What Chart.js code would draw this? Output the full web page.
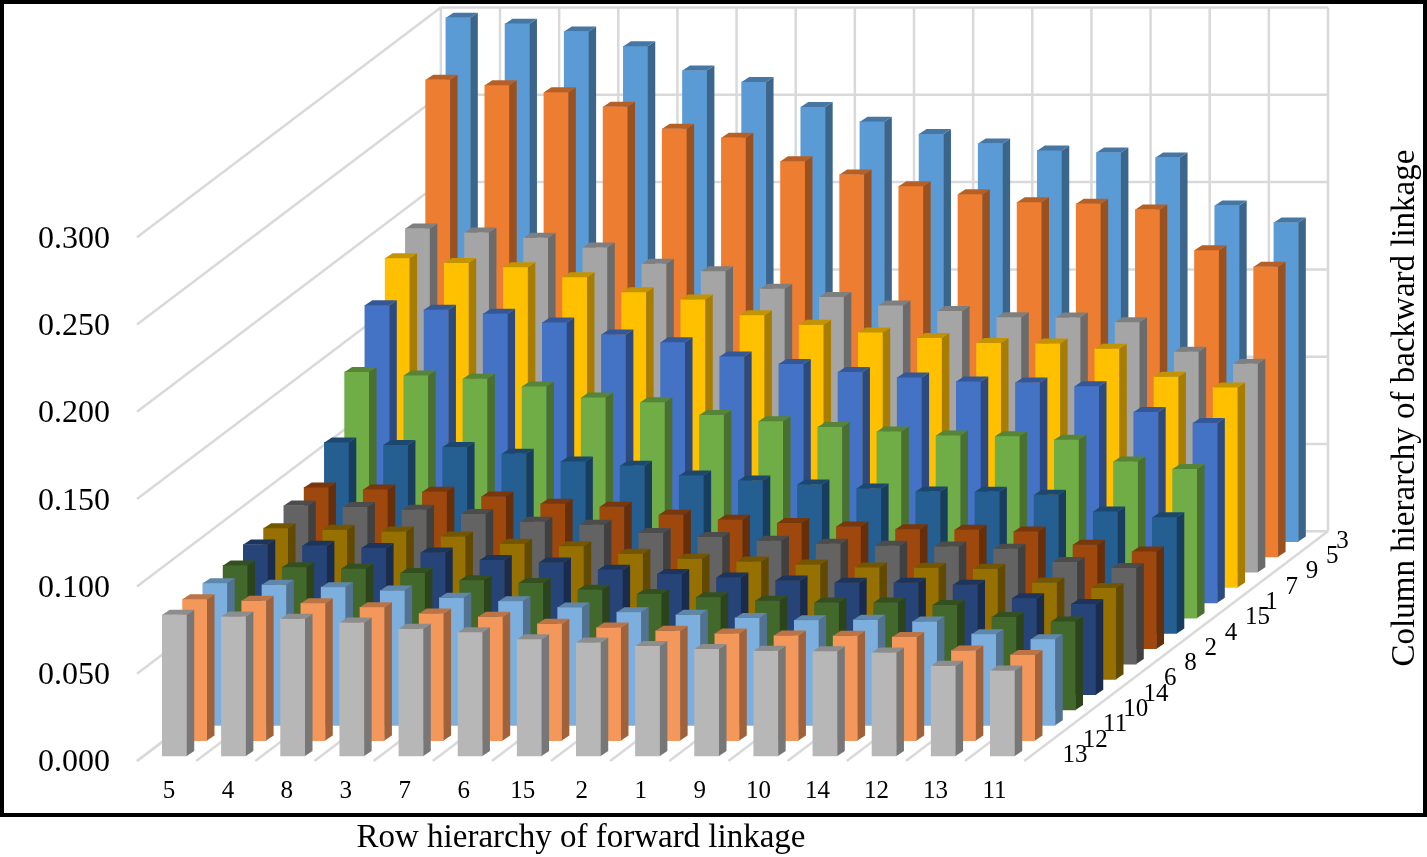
<!DOCTYPE html>
<html>
<head>
<meta charset="utf-8">
<title>Linkage hierarchy</title>
<script src="https://cdn.jsdelivr.net/npm/chart.js@4"></script>
<style>
  html, body { margin: 0; padding: 0; background: #fff; }
  canvas { display: block; }
</style>
</head>
<body>
<canvas id="idLinkageChart" width="1427" height="857"></canvas>
<script>
// row sectors along the front of the chart
const rowLabels = ['5', '4', '8', '3', '7', '6', '15', '2', '1', '9', '10', '14', '12', '13', '11'];
// column sectors, front row first
const columnLabels = ['13', '12', '11', '10', '14', '6', '8', '2', '4', '15', '1', '7', '9', '5', '3'];
const yTicks = [0, 0.05, 0.1, 0.15, 0.2, 0.25, 0.3];

const col13 = [0.0808, 0.0798, 0.0785, 0.0764, 0.0728, 0.0709, 0.0669, 0.0649, 0.0629, 0.0613, 0.0602, 0.0599, 0.0592, 0.0516, 0.0489];
const col12 = [0.0810, 0.0801, 0.0787, 0.0764, 0.0728, 0.0709, 0.0669, 0.0648, 0.0629, 0.0613, 0.0602, 0.0600, 0.0593, 0.0516, 0.0491];
const col11 = [0.0814, 0.0805, 0.0791, 0.0772, 0.0730, 0.0710, 0.0675, 0.0648, 0.0633, 0.0615, 0.0601, 0.0604, 0.0594, 0.0522, 0.0493];
const col10 = [0.0828, 0.0818, 0.0809, 0.0784, 0.0743, 0.0728, 0.0688, 0.0665, 0.0646, 0.0625, 0.0615, 0.0615, 0.0601, 0.0532, 0.0507];
const col14 = [0.0860, 0.0853, 0.0840, 0.0814, 0.0772, 0.0757, 0.0715, 0.0691, 0.0671, 0.0654, 0.0641, 0.0641, 0.0629, 0.0553, 0.0520];
const col6 = [0.0866, 0.0857, 0.0847, 0.0818, 0.0777, 0.0763, 0.0719, 0.0691, 0.0675, 0.0658, 0.0641, 0.0639, 0.0633, 0.0555, 0.0523];
const col8 = [0.0908, 0.0899, 0.0884, 0.0859, 0.0815, 0.0798, 0.0750, 0.0727, 0.0706, 0.0689, 0.0677, 0.0673, 0.0660, 0.0584, 0.0550];
const col2 = [0.0924, 0.0912, 0.0899, 0.0872, 0.0830, 0.0813, 0.0767, 0.0739, 0.0720, 0.0700, 0.0685, 0.0681, 0.0672, 0.0595, 0.0557];
const col4 = [0.1094, 0.1079, 0.1068, 0.1029, 0.0985, 0.0960, 0.0905, 0.0876, 0.0853, 0.0830, 0.0813, 0.0811, 0.0794, 0.0699, 0.0665];
const col15 = [0.1410, 0.1390, 0.1371, 0.1327, 0.1264, 0.1236, 0.1163, 0.1127, 0.1095, 0.1069, 0.1046, 0.1041, 0.1022, 0.0897, 0.0854];
const col1 = [0.1704, 0.1679, 0.1656, 0.1606, 0.1536, 0.1492, 0.1411, 0.1368, 0.1322, 0.1291, 0.1268, 0.1262, 0.1240, 0.1093, 0.1030];
const col7 = [0.1885, 0.1859, 0.1834, 0.1777, 0.1691, 0.1649, 0.1559, 0.1505, 0.1461, 0.1429, 0.1401, 0.1397, 0.1368, 0.1207, 0.1146];
const col9 = [0.1968, 0.1945, 0.1915, 0.1859, 0.1766, 0.1723, 0.1624, 0.1576, 0.1528, 0.1496, 0.1460, 0.1458, 0.1431, 0.1263, 0.1194];
const col5 = [0.2732, 0.2701, 0.2661, 0.2578, 0.2452, 0.2400, 0.2266, 0.2190, 0.2123, 0.2077, 0.2031, 0.2023, 0.1989, 0.1756, 0.1661];
const col3 = [0.3000, 0.2966, 0.2921, 0.2837, 0.2698, 0.2632, 0.2489, 0.2405, 0.2334, 0.2280, 0.2240, 0.2228, 0.2199, 0.1924, 0.1827];

const columnValues = [col13, col12, col11, col10, col14, col6, col8, col2, col4, col15, col1, col7, col9, col5, col3];
const columnColors = ['#B7B7B7', '#F4975A', '#7CAFDE', '#43682B', '#264478', '#967000', '#636363', '#9E480E',
                      '#255E91', '#70AD47', '#4472C4', '#FFC000', '#A5A5A5', '#ED7D31', '#5B9BD5'];

// oblique projection: one row of depth moves right and up, in scale units
const depthX = 0.3425;
const depthY = 0.00877;
const wallX = depthX * 15;
const wallY = depthY * 15;
const barInsetX = 0.6345;
const barInsetY = 0.0029;
// visible depth of one bar, pixels
const sideW = 7.5;
const topH = 5;
const gridColor = '#d9d9d9';
const serif = '"Liberation Serif", "Times New Roman", serif';

function shade(hex, f) {
    var r = parseInt(hex.substr(1, 2), 16), g = parseInt(hex.substr(3, 2), 16), b = parseInt(hex.substr(5, 2), 16);
    return `rgb(${Math.round(r * f)}, ${Math.round(g * f)}, ${Math.round(b * f)})`;
}

function poly(ctx, color, pts) {
    ctx.fillStyle = color;
    ctx.beginPath();
    pts.forEach((p, i) => i ? ctx.lineTo(p[0], p[1]) : ctx.moveTo(p[0], p[1]));
    ctx.closePath();
    ctx.fill();
}

function seg(ctx, x1, y1, x2, y2) {
    ctx.beginPath();
    ctx.moveTo(x1, y1);
    ctx.lineTo(x2, y2);
    ctx.stroke();
}

// first dataset is painted last, so the front row goes first
var datasets = columnValues.map((vals, d) => ({
    label: columnLabels[d],
    data: vals.map((v, i) => ({
        x: i + barInsetX + d * depthX,
        y: [barInsetY + d * depthY, barInsetY + d * depthY + v]
    })),
    backgroundColor: columnColors[d],
    borderWidth: 0,
    grouped: false,
    barThickness: 24.4
}));

// floor and wall lines behind the bars
const wallsPlugin = {
    id: 'walls',
    beforeDatasetsDraw(chart) {
        const ctx = chart.ctx, x = chart.scales.x, y = chart.scales.y;
        ctx.save();
        ctx.strokeStyle = gridColor;
        ctx.lineWidth = 2.5;
        for (let v of yTicks) {
            seg(ctx, x.getPixelForValue(0), y.getPixelForValue(v), x.getPixelForValue(wallX), y.getPixelForValue(v + wallY));
            seg(ctx, x.getPixelForValue(wallX), y.getPixelForValue(v + wallY), x.getPixelForValue(wallX + 15), y.getPixelForValue(v + wallY));
        }
        for (let k = 0; k <= 15; k++) {
            seg(ctx, x.getPixelForValue(k), y.getPixelForValue(0), x.getPixelForValue(k + wallX), y.getPixelForValue(wallY));
            seg(ctx, x.getPixelForValue(k + wallX), y.getPixelForValue(wallY), x.getPixelForValue(k + wallX), y.getPixelForValue(0.3 + wallY));
        }
        ctx.restore();
    }
};

// side and top faces of every bar, taken from the bar element itself
const facesPlugin = {
    id: 'faces',
    afterDatasetDraw(chart, args) {
        const ctx = chart.ctx;
        const color = columnColors[args.index];
        for (let el of args.meta.data) {
            let x0 = el.x - el.width / 2, x1 = el.x + el.width / 2;
            poly(ctx, shade(color, 0.65), [[x1, el.y], [x1 + sideW, el.y - topH], [x1 + sideW, el.base - topH], [x1, el.base]]);
            poly(ctx, shade(color, 0.77), [[x0, el.y], [x0 + sideW, el.y - topH], [x1 + sideW, el.y - topH], [x1, el.y]]);
        }
    }
};

// depth axis labels, axis titles and the frame
const extrasPlugin = {
    id: 'extras',
    afterDraw(chart) {
        const ctx = chart.ctx, x = chart.scales.x, y = chart.scales.y;
        ctx.save();
        ctx.fillStyle = '#000';
        ctx.font = '25px ' + serif;
        ctx.textAlign = 'left';
        ctx.textBaseline = 'alphabetic';
        columnLabels.forEach((lab, d) => {
            // the last label sits closer in the original
            let nudge = d === 14 ? -0.17 : 0;
            ctx.fillText(lab, x.getPixelForValue(15.65 + d * depthX + nudge), y.getPixelForValue(-0.0006 + d * depthY));
        });

        ctx.font = '33px ' + serif;
        ctx.textAlign = 'center';
        ctx.fillText('Row hierarchy of forward linkage', 581, 847);
        ctx.translate(1414, 408);
        ctx.rotate(-Math.PI / 2);
        ctx.fillText('Column hierarchy of backward linkage', 0, 0);
        ctx.restore();

        ctx.save();
        ctx.strokeStyle = '#000';
        ctx.lineWidth = 4;
        ctx.strokeRect(2, 2, 1423, 813);
        ctx.restore();
    }
};

var ctx = document.getElementById('idLinkageChart').getContext('2d');
var linkageChart = new Chart(ctx, {
    type: 'bar',
    data: { datasets: datasets },
    options: {
        responsive: false,
        animation: false,
        layout: { autoPadding: false, padding: { top: 7.5, right: 99, left: 0, bottom: 0 } },
        plugins: { legend: { display: false }, tooltip: { enabled: false }, title: { display: false } },
        scales: {
            x: {
                type: 'linear',
                offset: false,
                bounds: 'data',
                min: 0,
                max: 15 + wallX,
                grid: { display: false },
                border: { display: false },
                afterBuildTicks: (scale) => { scale.ticks = rowLabels.map((lab, i) => ({ value: i * 0.997 + 0.54 })); },
                afterFit: (scale) => { scale.height = 96; scale.paddingLeft = 0; scale.paddingRight = 0; },
                ticks: {
                    autoSkip: false,
                    maxRotation: 0,
                    padding: 7,
                    color: '#000',
                    font: { family: serif, size: 25 },
                    callback: (value) => rowLabels[Math.floor(value)]
                }
            },
            y: {
                type: 'linear',
                bounds: 'data',
                min: 0,
                max: 0.3 + wallY,
                grid: { display: false },
                border: { display: false },
                afterBuildTicks: (scale) => { scale.ticks = yTicks.map((v) => ({ value: v })); },
                afterFit: (scale) => { scale.width = 137; scale.paddingTop = 0; scale.paddingBottom = 0; },
                ticks: {
                    padding: 19,
                    labelOffset: 2,
                    color: '#000',
                    font: { family: serif, size: 32 },
                    callback: (value) => value.toFixed(3)
                }
            }
        }
    },
    plugins: [wallsPlugin, facesPlugin, extrasPlugin]
});
</script>
</body>
</html>
